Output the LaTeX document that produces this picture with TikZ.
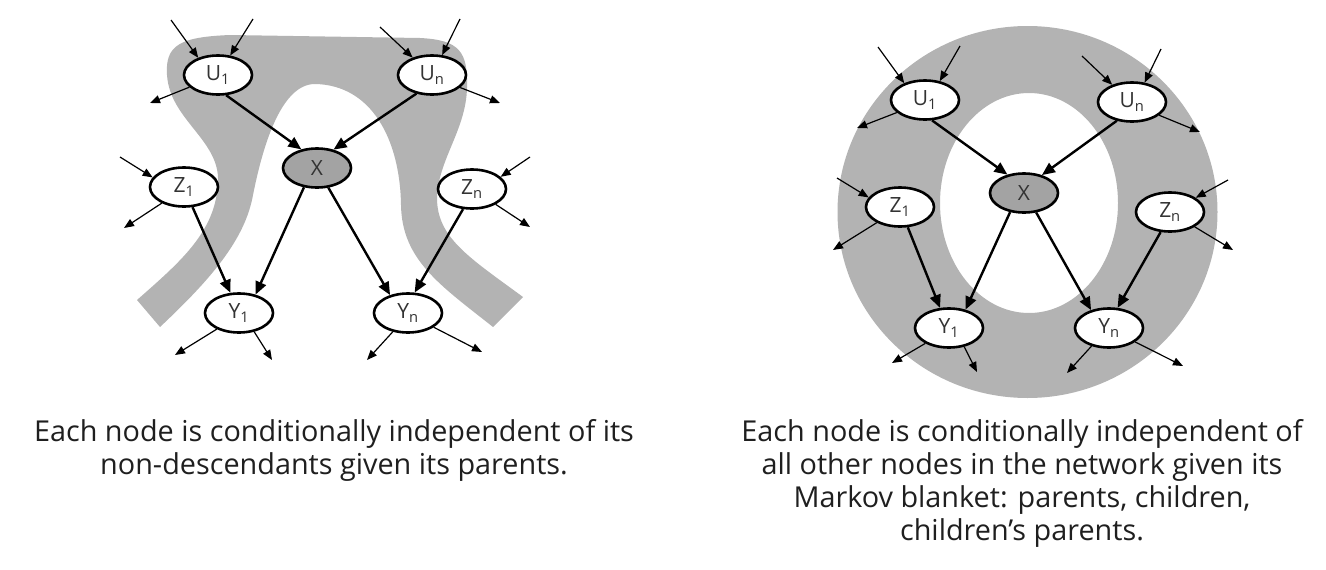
\documentclass[tikz,border=0pt]{standalone}
\usepackage{fontspec}
\setmainfont{Open Sans}
\usetikzlibrary{arrows.meta,shapes.geometric}
\definecolor{band}{HTML}{B3B3B3}
\definecolor{xfill}{HTML}{A3A3A3}
\definecolor{labelc}{HTML}{333333}
\tikzset{
  bn/.style={ellipse, draw=black, line width=2.6pt, fill=white, minimum width=68pt,
    minimum height=39pt, inner sep=0pt, text=labelc, font=\fontsize{21}{21}\selectfont},
  xn/.style={bn, fill=xfill},
  mainarr/.style={line width=2.4pt, -{Triangle[length=13pt,width=11pt]}},
  smallarr/.style={line width=1.2pt, -{Triangle[length=10pt,width=8pt]}},
  captext/.style={align=center, text=black!88, font=\fontsize{28.8}{33}\selectfont}
}
\begin{document}
\begin{tikzpicture}[x=1pt,y=-1pt]
\useasboundingbox (0,0) rectangle (1326,570);
% ---------------- left gray band
\fill[band] (137,300)
  .. controls (180,262) and (216,232) .. (218,182)
  .. controls (220,140) and (170,120) .. (167,75)
  .. controls (165,45) and (180,37) .. (230,35)
  -- (420,38)
  .. controls (460,40) and (468,52) .. (467,88)
  .. controls (466,130) and (438,160) .. (437,198)
  .. controls (437,238) and (470,258) .. (523,297)
  -- (493,327)
  .. controls (440,285) and (402,260) .. (401,205)
  .. controls (400,140) and (372,85) .. (315,84)
  .. controls (280,84) and (262,150) .. (253,195)
  .. controls (245,240) and (210,280) .. (160,327)
  -- cycle;
% ---------------- right ring
\fill[band, even odd rule] (1027.5,212) ellipse [x radius=190, y radius=186]
  (1029,203) ellipse [x radius=89, y radius=110];
% ---------------- left nodes
\node[bn] (LU1) at (218,75) {U\textsubscript{1}};
\node[bn] (LUn) at (432,75) {U\textsubscript{n}};
\node[xn] (LX) at (317,168) {X};
\node[bn] (LZ1) at (184,187) {Z\textsubscript{1}};
\node[bn] (LZn) at (472,189) {Z\textsubscript{n}};
\node[bn] (LY1) at (239,313) {Y\textsubscript{1}};
\node[bn] (LYn) at (408,313) {Y\textsubscript{n}};
\draw[mainarr] (LU1.292) -- (LX.130);
\draw[mainarr] (LUn.230) -- (LX.48);
\draw[mainarr] (LX.236) -- (LY1.48);
\draw[mainarr] (LX.300) -- (LYn.135);
\draw[mainarr] (LZ1.293) -- (LY1.113);
\draw[mainarr] (LZn.246) -- (LYn.72);
\coordinate (lu1a) at (171,20);
\coordinate (lu1b) at (253,19);
\coordinate (lu1c) at (150,103);
\coordinate (luna) at (380,27);
\coordinate (lunb) at (460,19);
\coordinate (lunc) at (500,103);
\coordinate (lz1a) at (120,157);
\coordinate (lz1b) at (124,228);
\coordinate (lzna) at (530,157);
\coordinate (lznb) at (530,227);
\coordinate (ly1a) at (175,355);
\coordinate (ly1b) at (272,360);
\coordinate (lyna) at (367,360);
\coordinate (lynb) at (482,352);
\draw[smallarr] (lu1a) -- (LU1.139);
\draw[smallarr] (lu1b) -- (LU1.58);
\draw[smallarr] (LU1.203) -- (lu1c);
\draw[smallarr] (luna) -- (LUn.138);
\draw[smallarr] (lunb) -- (LUn.63);
\draw[smallarr] (LUn.336) -- (lunc);
\draw[smallarr] (lz1a) -- (LZ1.163);
\draw[smallarr] (LZ1.216) -- (lz1b);
\draw[smallarr] (lzna) -- (LZn.23);
\draw[smallarr] (LZn.327) -- (lznb);
\draw[smallarr] (LY1.216) -- (ly1a);
\draw[smallarr] (LY1.309) -- (ly1b);
\draw[smallarr] (LYn.231) -- (lyna);
\draw[smallarr] (LYn.331) -- (lynb);
% ---------------- right nodes
\node[bn] (RU1) at (925,100) {U\textsubscript{1}};
\node[bn] (RUn) at (1132,102) {U\textsubscript{n}};
\node[xn] (RX) at (1024,193) {X};
\node[bn] (RZ1) at (900,207) {Z\textsubscript{1}};
\node[bn] (RZn) at (1170,212) {Z\textsubscript{n}};
\node[bn] (RY1) at (949,328) {Y\textsubscript{1}};
\node[bn] (RYn) at (1109,328) {Y\textsubscript{n}};
\draw[mainarr] (RU1.289) -- (RX.132);
\draw[mainarr] (RUn.231) -- (RX.45);
\draw[mainarr] (RX.234) -- (RY1.48);
\draw[mainarr] (RX.302) -- (RYn.135);
\draw[mainarr] (RZ1.291) -- (RY1.114);
\draw[mainarr] (RZn.245) -- (RYn.67);
\coordinate (ru1a) at (878,47);
\coordinate (ru1b) at (960,46);
\coordinate (ru1c) at (857,128);
\coordinate (runa) at (1082,56);
\coordinate (runb) at (1161,49);
\coordinate (runc) at (1200,132);
\coordinate (rz1a) at (837,178);
\coordinate (rz1b) at (833,250);
\coordinate (rzna) at (1228,180);
\coordinate (rznb) at (1233,250);
\coordinate (ry1a) at (892,363);
\coordinate (ry1b) at (977,372);
\coordinate (ryna) at (1067,373);
\coordinate (rynb) at (1183,366);
\draw[smallarr] (ru1a) -- (RU1.141);
\draw[smallarr] (ru1b) -- (RU1.52);
\draw[smallarr] (RU1.204) -- (ru1c);
\draw[smallarr] (runa) -- (RUn.139);
\draw[smallarr] (runb) -- (RUn.57);
\draw[smallarr] (RUn.334) -- (runc);
\draw[smallarr] (rz1a) -- (RZ1.163);
\draw[smallarr] (RZ1.214) -- (rz1b);
\draw[smallarr] (rzna) -- (RZn.29);
\draw[smallarr] (RZn.329) -- (rznb);
\draw[smallarr] (RY1.213) -- (ry1a);
\draw[smallarr] (RY1.309) -- (ry1b);
\draw[smallarr] (RYn.226) -- (ryna);
\draw[smallarr] (RYn.332) -- (rynb);
% ---------------- captions
\node[captext] (lcap) at (334,450) {Each node is conditionally independent of its\\non-descendants given its parents.};
\node[captext] (rcap) at (1022,483) {Each node is conditionally independent of\\all other nodes in the network given its\\Markov blanket: parents, children,\\children’s parents.};
\end{tikzpicture}
\end{document}
